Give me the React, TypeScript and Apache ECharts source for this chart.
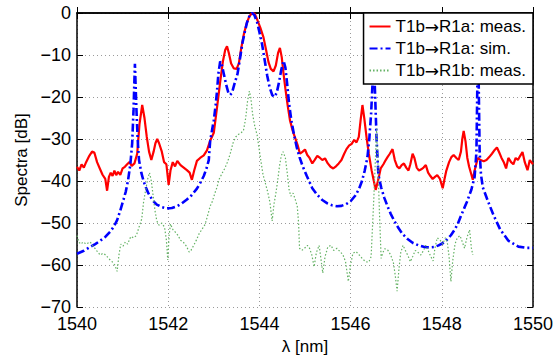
import React, { useEffect, useRef } from "react";
import * as echarts from "echarts";

// [wavelength nm, dB]
const redMeas: [number, number][] = [
  [1540.00, -36.6], [1540.05, -37.5], [1540.10, -36.0], [1540.15, -36.8], [1540.20, -35.5],
  [1540.27, -34.0], [1540.33, -33.0], [1540.38, -33.2], [1540.44, -35.5], [1540.50, -37.0],
  [1540.56, -38.5], [1540.62, -39.5], [1540.66, -42.3], [1540.70, -39.0], [1540.74, -38.0],
  [1540.78, -38.8], [1540.82, -37.5], [1540.86, -38.6], [1540.90, -37.8], [1540.95, -38.5],
  [1541.00, -37.0], [1541.05, -36.6], [1541.10, -36.0], [1541.15, -35.5], [1541.20, -36.4],
  [1541.26, -35.8], [1541.32, -33.5], [1541.37, -26.5], [1541.43, -21.9], [1541.48, -25.0],
  [1541.53, -29.5], [1541.58, -33.0], [1541.63, -35.0], [1541.68, -33.0], [1541.72, -31.0],
  [1541.76, -30.0], [1541.80, -31.0], [1541.86, -33.0], [1541.91, -35.5], [1541.96, -36.0],
  [1542.01, -40.9], [1542.05, -37.5], [1542.10, -35.5], [1542.15, -36.5], [1542.20, -35.2],
  [1542.27, -36.2], [1542.34, -36.8], [1542.41, -37.4], [1542.47, -38.0], [1542.52, -39.7],
  [1542.57, -37.5], [1542.63, -35.2], [1542.70, -34.5], [1542.78, -33.9], [1542.85, -32.7],
  [1542.92, -30.4], [1543.00, -28.5], [1543.07, -22.6], [1543.14, -16.4], [1543.20, -11.5],
  [1543.25, -8.8], [1543.29, -7.9], [1543.33, -9.5], [1543.38, -12.0], [1543.44, -13.2],
  [1543.50, -13.3], [1543.55, -12.0], [1543.60, -8.5], [1543.66, -5.0], [1543.72, -2.5],
  [1543.78, -0.8], [1543.84, 0], [1543.90, -0.2], [1543.95, -1.5], [1544.02, -3.5],
  [1544.09, -5.8], [1544.15, -9.0], [1544.20, -11.7], [1544.25, -13.3], [1544.31, -13.9],
  [1544.36, -12.5], [1544.41, -9.5], [1544.45, -8.3], [1544.49, -10.5], [1544.53, -14.5],
  [1544.57, -18.0], [1544.62, -22.0], [1544.67, -25.5], [1544.73, -28.0], [1544.78, -29.6],
  [1544.84, -31.5], [1544.89, -33.5], [1544.95, -33.0], [1545.00, -32.5], [1545.05, -33.8],
  [1545.10, -34.5], [1545.16, -35.8], [1545.21, -35.0], [1545.27, -34.0], [1545.33, -34.5],
  [1545.38, -35.0], [1545.44, -34.6], [1545.50, -35.8], [1545.56, -36.6], [1545.62, -37.0],
  [1545.68, -36.5], [1545.74, -35.8], [1545.80, -35.0], [1545.86, -33.5], [1545.91, -32.4],
  [1545.97, -31.5], [1546.02, -31.2], [1546.08, -30.2], [1546.13, -30.8], [1546.18, -29.5],
  [1546.22, -25.5], [1546.26, -21.9], [1546.30, -25.0], [1546.35, -29.6], [1546.40, -33.5],
  [1546.46, -37.4], [1546.51, -40.0], [1546.55, -42.1], [1546.60, -40.0], [1546.66, -37.0],
  [1546.72, -36.0], [1546.77, -35.0], [1546.81, -34.3], [1546.86, -33.5], [1546.92, -32.4],
  [1546.97, -35.0], [1547.02, -36.5], [1547.07, -37.0], [1547.12, -36.2], [1547.17, -35.8],
  [1547.22, -36.8], [1547.27, -37.5], [1547.31, -36.0], [1547.36, -33.5], [1547.40, -34.5],
  [1547.45, -36.8], [1547.50, -37.5], [1547.55, -37.2], [1547.60, -36.8], [1547.65, -36.2],
  [1547.70, -38.0], [1547.75, -38.8], [1547.80, -39.5], [1547.85, -39.0], [1547.90, -38.6],
  [1547.96, -39.5], [1548.02, -41.7], [1548.06, -39.5], [1548.10, -37.5], [1548.16, -35.5],
  [1548.21, -34.3], [1548.26, -33.8], [1548.32, -34.5], [1548.37, -35.0], [1548.42, -33.0],
  [1548.45, -30.0], [1548.48, -28.1], [1548.52, -30.5], [1548.56, -34.5], [1548.60, -36.6],
  [1548.65, -38.5], [1548.68, -39.7], [1548.72, -37.5], [1548.79, -34.5], [1548.85, -35.0],
  [1548.92, -35.3], [1548.98, -35.0], [1549.04, -34.3], [1549.10, -33.5], [1549.16, -32.6],
  [1549.21, -32.0], [1549.26, -33.2], [1549.31, -34.5], [1549.36, -35.5], [1549.41, -37.0],
  [1549.46, -34.5], [1549.52, -35.5], [1549.57, -36.0], [1549.62, -34.5], [1549.67, -35.0],
  [1549.72, -34.0], [1549.77, -33.1], [1549.82, -35.5], [1549.88, -37.4], [1549.93, -35.0],
  [1550.00, -36.0],
];

const blueSim: [number, number][] = [
  [1540.00, -57.3], [1540.15, -56.6], [1540.29, -55.7], [1540.40, -55.0], [1540.51, -54.2],
  [1540.62, -53.3], [1540.73, -52.0], [1540.81, -50.8], [1540.88, -49.3], [1540.95, -47.0],
  [1541.02, -44.4], [1541.07, -42.5], [1541.12, -39.8], [1541.17, -36.0], [1541.21, -31.0],
  [1541.24, -23.0], [1541.27, -12.1], [1541.30, -22.0], [1541.33, -30.0], [1541.36, -35.0],
  [1541.41, -38.0], [1541.46, -40.0], [1541.52, -41.8], [1541.57, -43.0], [1541.66, -44.6],
  [1541.75, -45.6], [1541.86, -46.2], [1541.97, -46.5], [1542.08, -46.4], [1542.19, -46.0],
  [1542.30, -45.3], [1542.41, -44.4], [1542.52, -43.3], [1542.63, -41.8], [1542.71, -40.3],
  [1542.78, -38.8], [1542.84, -37.0], [1542.89, -35.0], [1542.92, -30.5], [1542.96, -28.0],
  [1543.00, -25.5], [1543.04, -22.0], [1543.07, -18.7], [1543.10, -14.5], [1543.14, -11.5],
  [1543.18, -12.5], [1543.22, -14.5], [1543.27, -17.0], [1543.32, -19.0], [1543.36, -19.5],
  [1543.40, -19.0], [1543.45, -17.0], [1543.52, -14.5], [1543.58, -10.5], [1543.63, -7.0],
  [1543.68, -4.5], [1543.73, -2.2], [1543.79, -0.5], [1543.84, 0], [1543.89, -0.5],
  [1543.95, -2.2], [1544.00, -4.5], [1544.06, -7.5], [1544.12, -11.5], [1544.17, -14.8],
  [1544.22, -17.5], [1544.28, -19.5], [1544.33, -20.0], [1544.38, -19.0], [1544.43, -16.5],
  [1544.48, -13.5], [1544.53, -11.4], [1544.57, -13.0], [1544.61, -17.0], [1544.65, -21.5],
  [1544.70, -25.5], [1544.76, -29.0], [1544.82, -32.0], [1544.88, -34.3], [1544.95, -36.5],
  [1545.04, -38.8], [1545.16, -41.7], [1545.27, -43.3], [1545.38, -44.5], [1545.49, -45.3],
  [1545.60, -45.8], [1545.70, -46.0], [1545.80, -45.9], [1545.90, -45.5], [1546.00, -44.8],
  [1546.10, -43.5], [1546.18, -42.0], [1546.25, -40.0], [1546.31, -37.5], [1546.37, -34.3],
  [1546.41, -30.0], [1546.45, -24.0], [1546.48, -17.0], [1546.50, -3.0], [1546.53, -17.0],
  [1546.57, -30.0], [1546.61, -38.5], [1546.67, -41.5], [1546.74, -44.0], [1546.81, -46.0],
  [1546.88, -47.8], [1546.96, -49.5], [1547.05, -51.2], [1547.14, -52.6], [1547.25, -53.8],
  [1547.36, -54.7], [1547.49, -55.3], [1547.62, -55.7], [1547.73, -55.8], [1547.84, -55.7],
  [1547.93, -55.3], [1548.02, -54.8], [1548.11, -54.0], [1548.20, -52.9], [1548.28, -51.6],
  [1548.35, -50.2], [1548.42, -48.3], [1548.49, -46.5], [1548.55, -45.0], [1548.60, -43.5],
  [1548.65, -42.0], [1548.72, -39.0], [1548.76, -33.0], [1548.78, -17.0], [1548.795, -3.0],
  [1548.81, -17.0], [1548.83, -33.0], [1548.86, -38.5], [1548.90, -41.5], [1549.02, -45.0],
  [1549.13, -48.0], [1549.28, -51.5], [1549.46, -54.2], [1549.68, -55.6], [1549.85, -55.9],
  [1550.00, -55.9],
];

const greenMeas: [number, number][] = [
  [1540.00, -53.0], [1540.04, -54.5], [1540.08, -55.0], [1540.14, -54.5], [1540.20, -55.0],
  [1540.29, -54.5], [1540.35, -55.5], [1540.40, -56.1], [1540.46, -57.0], [1540.51, -57.6],
  [1540.57, -57.2], [1540.63, -57.6], [1540.70, -58.5], [1540.77, -59.2], [1540.83, -60.0],
  [1540.88, -61.5], [1540.92, -57.6], [1540.96, -55.0], [1541.01, -55.5], [1541.06, -54.5],
  [1541.11, -55.0], [1541.18, -53.2], [1541.24, -53.5], [1541.30, -53.0], [1541.36, -51.0],
  [1541.42, -49.0], [1541.46, -45.0], [1541.50, -42.5], [1541.55, -39.5], [1541.59, -38.0],
  [1541.63, -40.0], [1541.67, -43.5], [1541.71, -47.0], [1541.75, -49.5], [1541.80, -50.5],
  [1541.86, -50.0], [1541.92, -51.0], [1541.96, -54.0], [1541.99, -58.8], [1542.02, -53.0],
  [1542.05, -50.2], [1542.10, -51.5], [1542.16, -52.2], [1542.22, -53.0], [1542.27, -54.1],
  [1542.33, -54.5], [1542.40, -55.5], [1542.46, -56.9], [1542.50, -56.5], [1542.56, -55.3],
  [1542.62, -54.0], [1542.68, -52.5], [1542.74, -51.5], [1542.81, -50.3], [1542.87, -48.0],
  [1542.92, -46.0], [1542.97, -44.8], [1543.02, -43.0], [1543.07, -41.5], [1543.12, -39.5],
  [1543.18, -38.2], [1543.24, -37.0], [1543.30, -35.5], [1543.36, -33.5], [1543.42, -31.0],
  [1543.48, -29.5], [1543.54, -28.9], [1543.60, -28.5], [1543.65, -28.0], [1543.70, -25.0],
  [1543.74, -21.0], [1543.78, -18.6], [1543.81, -20.0], [1543.85, -24.0], [1543.90, -27.0],
  [1543.95, -29.0], [1543.99, -32.0], [1544.03, -35.0], [1544.08, -38.5], [1544.13, -40.5],
  [1544.18, -42.5], [1544.23, -45.0], [1544.28, -49.5], [1544.32, -45.5], [1544.36, -43.0],
  [1544.40, -40.0], [1544.44, -36.5], [1544.48, -34.0], [1544.52, -33.0], [1544.57, -34.5],
  [1544.61, -38.0], [1544.65, -42.0], [1544.69, -43.6], [1544.74, -42.9], [1544.79, -44.5],
  [1544.83, -46.0], [1544.86, -50.0], [1544.88, -56.0], [1544.93, -56.5], [1544.99, -56.0],
  [1545.05, -55.3], [1545.10, -56.0], [1545.15, -57.6], [1545.20, -60.4], [1545.25, -57.0],
  [1545.31, -55.3], [1545.35, -58.5], [1545.39, -61.9], [1545.44, -58.0], [1545.50, -55.7],
  [1545.57, -55.3], [1545.63, -56.5], [1545.70, -56.0], [1545.76, -56.7], [1545.83, -57.5],
  [1545.89, -59.2], [1545.95, -63.9], [1546.00, -60.0], [1546.05, -57.2], [1546.12, -56.8],
  [1546.19, -57.6], [1546.26, -58.5], [1546.33, -59.2], [1546.40, -59.3], [1546.45, -58.0],
  [1546.48, -51.0], [1546.51, -44.0], [1546.54, -36.0], [1546.57, -27.5], [1546.60, -36.0],
  [1546.63, -46.5], [1546.67, -58.4], [1546.71, -57.0], [1546.75, -56.1], [1546.82, -56.5],
  [1546.88, -57.6], [1546.94, -59.5], [1546.98, -62.5], [1547.02, -66.2], [1547.06, -61.0],
  [1547.10, -57.0], [1547.15, -55.3], [1547.20, -56.5], [1547.26, -57.8], [1547.31, -59.2],
  [1547.36, -58.0], [1547.42, -56.5], [1547.48, -57.0], [1547.54, -57.6], [1547.60, -56.5],
  [1547.65, -55.3], [1547.70, -56.5], [1547.76, -58.0], [1547.81, -59.0], [1547.85, -56.0],
  [1547.90, -53.5], [1547.96, -54.0], [1548.02, -55.0], [1548.08, -53.5], [1548.12, -54.5],
  [1548.16, -58.0], [1548.20, -63.9], [1548.24, -59.0], [1548.29, -55.0], [1548.34, -53.5],
  [1548.40, -53.0], [1548.45, -54.5], [1548.50, -56.0], [1548.55, -53.5], [1548.61, -51.6],
  [1548.65, -56.0], [1548.68, -57.6],
];

const seriesNames = ["T1b\u2192R1a: meas.", "T1b\u2192R1a: sim.", "T1b\u2192R1b: meas."];
const xRange = [1540, 1550];
const xStep = 2;
const yRange = [-70, 0];
const yStep = 10;

const FONT = "Liberation Sans, Arial, Helvetica, sans-serif";

export default function App() {
  const ref = useRef<HTMLDivElement>(null);
  useEffect(() => {
    if (!ref.current) return;
    const chart = echarts.init(ref.current, null, { renderer: "svg" });
    const axisLine = { show: true, lineStyle: { color: "#000", width: 1.5 } };
    const splitLine = { show: true, lineStyle: { color: "#9a9a9a", width: 1, type: [1, 3] } };
    const tick = { show: true, inside: true, length: 6, lineStyle: { color: "#000", width: 1 } };
    const minus = (v: number) => (v < 0 ? "\u2212" + Math.abs(v) : String(v));
    chart.setOption({
      animation: false,
      backgroundColor: "#fff",
      grid: { left: 77, right: 23, top: 13, bottom: 47, containLabel: false },
      xAxis: [
        {
          type: "value", min: xRange[0], max: xRange[1], interval: xStep, position: "bottom",
          axisLine, axisTick: tick, splitLine,
          axisLabel: { color: "#000", fontSize: 18, fontFamily: FONT, margin: 8, formatter: (v: number) => String(v) },
          name: "\u03bb [nm]", nameLocation: "middle", nameGap: 30,
          nameTextStyle: { color: "#000", fontSize: 17, fontFamily: FONT },
        },
        {
          type: "value", min: xRange[0], max: xRange[1], interval: xStep, position: "top",
          axisLine, axisTick: tick, splitLine: { show: false }, axisLabel: { show: false },
        },
      ],
      yAxis: [
        {
          type: "value", min: yRange[0], max: yRange[1], interval: yStep, position: "left",
          axisLine, axisTick: tick, splitLine,
          axisLabel: { color: "#000", fontSize: 18, fontFamily: FONT, margin: 6, formatter: minus },
          name: "Spectra [dB]", nameLocation: "middle", nameGap: 47,
          nameTextStyle: { color: "#000", fontSize: 17, fontFamily: FONT },
        },
        {
          type: "value", min: yRange[0], max: yRange[1], interval: yStep, position: "right",
          axisLine, axisTick: tick, splitLine: { show: false }, axisLabel: { show: false },
        },
      ],
      legend: {
        show: true,
        orient: "vertical",
        right: 23,
        top: 13,
        align: "left",
        itemWidth: 21,
        itemHeight: 12,
        itemGap: 5,
        padding: [5, 7, 5, 5],
        backgroundColor: "#fff",
        borderColor: "#000",
        borderWidth: 1.5,
        borderRadius: 0,
        itemStyle: { opacity: 0, borderWidth: 0 },
        formatter: (name: string) => name.split("\u2192").join("{arr|\u2192}"),
        textStyle: {
          color: "#000", fontSize: 17, fontFamily: FONT, lineHeight: 17,
          rich: { arr: { fontFamily: "DejaVu Sans", fontSize: 17, color: "#000", lineHeight: 17 } },
        },
        data: seriesNames,
      },
      series: [
        {
          name: seriesNames[0], type: "line", data: redMeas, symbol: "none", showSymbol: false,
          lineStyle: { color: "#ff0000", width: 2.2 }, itemStyle: { color: "#ff0000" }, clip: true,
        },
        {
          name: seriesNames[1], type: "line", data: blueSim, symbol: "none", showSymbol: false,
          lineStyle: { color: "#0000ff", width: 2.6, type: [8, 3, 2, 3] }, itemStyle: { color: "#0000ff" }, clip: true,
        },
        {
          name: seriesNames[2], type: "line", data: greenMeas, symbol: "none", showSymbol: false,
          lineStyle: { color: "rgb(100,178,100)", width: 1.2, type: [1.5, 2] }, itemStyle: { color: "rgb(100,178,100)" }, clip: true,
        },
      ],
    });
    return () => chart.dispose();
  }, []);
  return <div ref={ref} style={{ width: 556, height: 360, position: "absolute", left: 0, top: 0 }} />;
}
